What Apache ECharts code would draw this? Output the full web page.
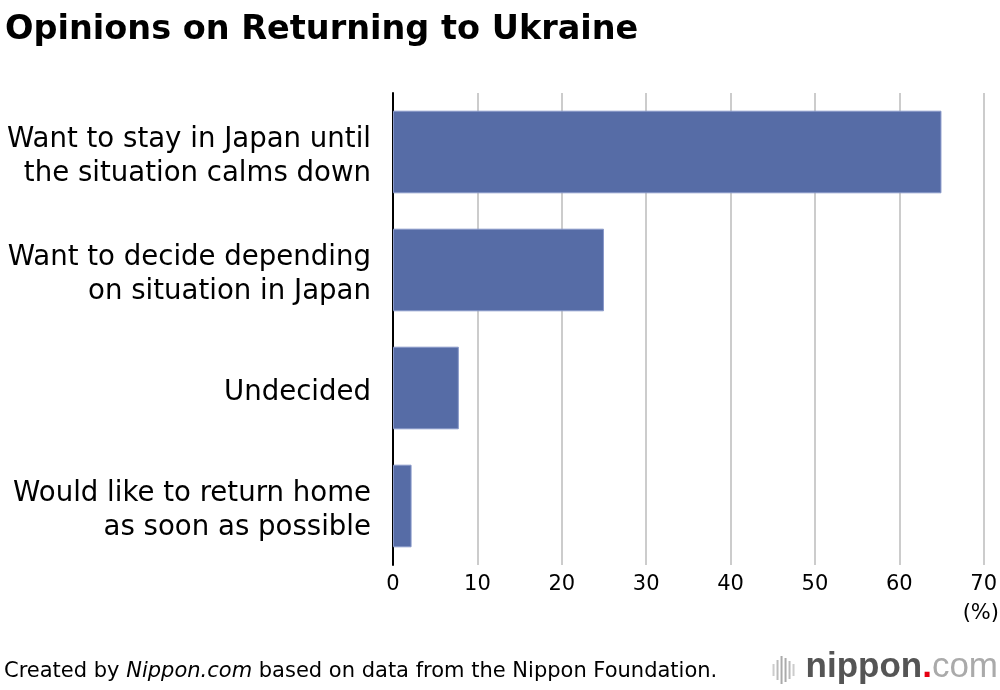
<!DOCTYPE html>
<html>
<head>
<meta charset="utf-8">
<script src="https://cdn.jsdelivr.net/npm/echarts@6/dist/echarts.min.js"></script>
<style>html,body{margin:0;padding:0;background:#fff;}#c{width:1000px;height:690px;}</style>
</head>
<body>
<div id="c"></div>
<script>
const categories = [
  "Want to stay in Japan until\nthe situation calms down",
  "Want to decide depending\non situation in Japan",
  "Undecided",
  "Would like to return home\nas soon as possible"
];
const values = [65, 25, 7.8, 2.2];
const xTicks = [0, 10, 20, 30, 40, 50, 60, 70];

const FONT = "'DejaVu Sans', 'Liberation Sans', Arial, sans-serif";
const LOGO_FONT = "'Liberation Sans', Arial, sans-serif";
const chart = echarts.init(document.getElementById('c'), null, {renderer: 'canvas'});
chart.setOption({
  animation: false,
  backgroundColor: '#fff',
  textStyle: {fontFamily: FONT},
  title: {
    text: 'Opinions on Returning to Ukraine',
    left: 0, top: 8,
    textStyle: {fontFamily: FONT, fontSize: 33.5, fontWeight: 'bold', color: '#000'}
  },
  grid: {left: 393, right: 10, top: 93, bottom: 125, containLabel: false},
  xAxis: {
    type: 'value', min: xTicks[0], max: xTicks[xTicks.length - 1], interval: 10,
    axisLine: {show: false}, axisTick: {show: false},
    splitLine: {show: true, lineStyle: {color: '#cccccc', width: 2}},
    axisLabel: {fontSize: 21, color: '#000', margin: 9, fontFamily: FONT}
  },
  yAxis: {
    type: 'category', data: categories, inverse: true,
    axisLine: {show: true, lineStyle: {color: '#000', width: 2}},
    axisTick: {show: false},
    axisLabel: {
      margin: 22, align: 'right',
      formatter: v => '{s| }\n' + v.split('\n').map(l => '{a|' + l + '}').join('\n'),
      rich: {
        s: {fontSize: 1, lineHeight: 9},
        a: {fontSize: 27.6, lineHeight: 34, color: '#000', fontFamily: FONT, align: 'right'}
      }
    }
  },
  series: [{
    type: 'bar', data: values, barCategoryGap: '30%',
    itemStyle: {color: '#566ca6', borderColor: '#8797c8', borderWidth: 1},
    z: 3
  }],
  graphic: [
    {type: 'text', right: 1, top: 603, style: {text: '(%)', fontSize: 21, fill: '#000', fontFamily: FONT}},
    {type: 'text', left: 4, top: 661, style: {
      rich: {
        n: {fontSize: 21, fill: '#000', fontFamily: FONT},
        i: {fontSize: 21, fill: '#000', fontStyle: 'italic', fontFamily: FONT}
      },
      text: '{n|Created by }{i|Nippon.com}{n| based on data from the Nippon Foundation.}'
    }},
    {type: 'group', right: 2, top: 650, children: [
      {type: 'rect', shape: {x: 0, y: 12, width: 2, height: 12}, style: {fill: '#ccc'}},
      {type: 'rect', shape: {x: 4, y: 8, width: 2, height: 20}, style: {fill: '#bbb'}},
      {type: 'rect', shape: {x: 8, y: 4, width: 2, height: 28}, style: {fill: '#aaa'}},
      {type: 'rect', shape: {x: 12, y: 6, width: 2, height: 24}, style: {fill: '#aaa'}},
      {type: 'rect', shape: {x: 16, y: 9, width: 2, height: 18}, style: {fill: '#bbb'}},
      {type: 'rect', shape: {x: 20, y: 12, width: 2, height: 12}, style: {fill: '#ccc'}},
      {type: 'text', x: 33, y: -2, style: {
        rich: {
          a: {fontSize: 35, fontWeight: 'bold', fill: '#555', fontFamily: LOGO_FONT},
          d: {fontSize: 35, fontWeight: 'bold', fill: '#e60012', fontFamily: LOGO_FONT},
          c: {fontSize: 35, fill: '#aaa', fontFamily: LOGO_FONT}
        },
        text: '{a|nippon}{d|.}{c|com}'
      }}
    ]}
  ]
});
</script>
</body>
</html>
